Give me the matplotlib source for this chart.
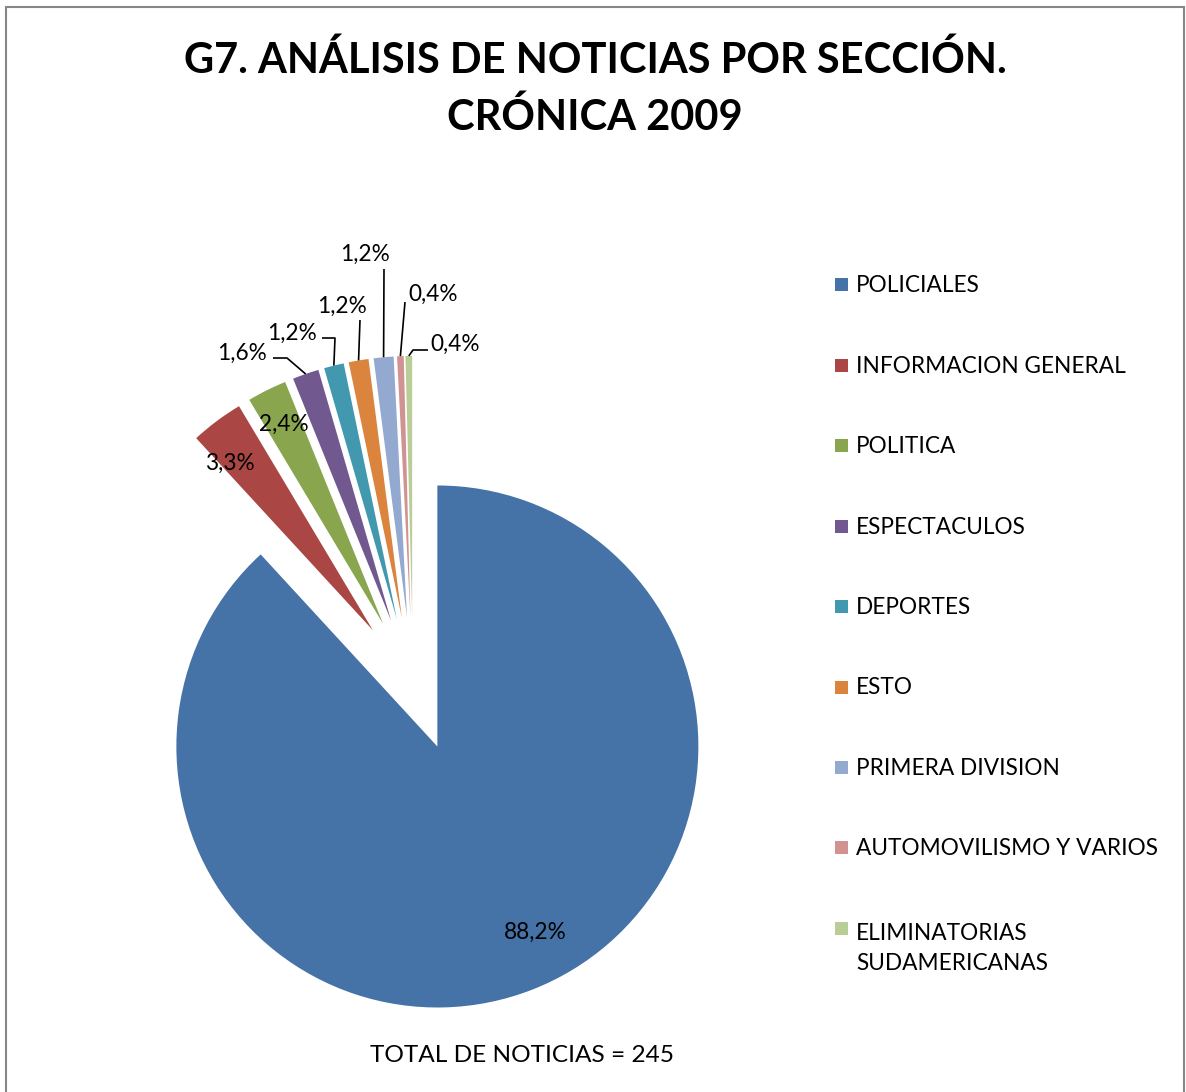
import matplotlib.pyplot as plt
import numpy as np
from matplotlib.patches import Rectangle

plt.rcParams["font.family"] = ["Lato", "DejaVu Sans"]

secciones = [
    "POLICIALES",
    "INFORMACION GENERAL",
    "POLITICA",
    "ESPECTACULOS",
    "DEPORTES",
    "ESTO",
    "PRIMERA DIVISION",
    "AUTOMOVILISMO Y VARIOS",
    "ELIMINATORIAS\nSUDAMERICANAS",
]
noticias = [216, 8, 6, 4, 3, 3, 3, 1, 1]
colores = [
    "#4572A7", "#AA4643", "#89A54E", "#71588F", "#4198AF",
    "#DB843D", "#93A9CF", "#D19392", "#B9CD96",
]
titulo = "G7. ANÁLISIS DE NOTICIAS POR SECCIÓN.\nCRÓNICA 2009"
pie_nota = "TOTAL DE NOTICIAS = 245"

W, H = 1186, 1092
CX, CY, R = 413, 684, 261  # pie centre / radius in pixels

# label text position (px) and leader elbows (px), None = no leader
label_layout = [
    ((535, 932), None),
    ((230, 463), None),
    ((284, 424), None),
    ((242, 353), [(273, 358), (287, 358)]),
    ((292, 333), [(322, 338), (335, 338)]),
    ((342, 306), [(360, 320)]),
    ((365, 254), [(384, 269)]),
    ((433, 294), [(405, 302)]),
    ((455, 344), [(428, 350), (413, 350)]),
]


def to_data(x, y):
    return (x - CX) / R, (CY - y) / R


def to_fig(x, y):
    return x / W, 1 - y / H


fig = plt.figure(figsize=(W / 100, H / 100), dpi=100)
ax = fig.add_axes([0, 0, 1, 1])
wedges, _ = ax.pie(
    noticias,
    colors=colores,
    startangle=90,
    counterclock=False,
    explode=[0.257] * len(noticias),
    wedgeprops=dict(linewidth=0),
)
ax.set_xlim(-CX / R, (W - CX) / R)
ax.set_ylim(-(H - CY) / R, CY / R)
ax.axis("off")

total = sum(noticias)
for wedge, n, (txt_pos, elbows) in zip(wedges, noticias, label_layout):
    pct = f"{100 * n / total:.1f}".replace(".", ",") + "%"
    ax.text(*to_data(*txt_pos), pct, ha="center", va="center", fontsize=16.3)
    if elbows is None:
        continue
    mid = np.deg2rad((wedge.theta1 + wedge.theta2) / 2)
    end = (wedge.center[0] + wedge.r * np.cos(mid),
           wedge.center[1] + wedge.r * np.sin(mid))
    pts = [to_data(*p) for p in elbows] + [end]
    xs, ys = zip(*pts)
    ax.plot(xs, ys, color="black", lw=1.2, solid_capstyle="butt")

fig.text(*to_fig(595, 89), titulo, ha="center", va="center",
         fontsize=30, fontweight="bold", linespacing=1.55)

# legend
y0, step = 286, 80.4
for i, (wedge, name) in enumerate(zip(wedges, secciones)):
    y = y0 + i * step
    fig.add_artist(Rectangle(to_fig(835, y + 5.5), 13 / W, 13 / H,
                             transform=fig.transFigure,
                             facecolor=wedge.get_facecolor(), edgecolor="none"))
    if "\n" in name:
        fig.text(*to_fig(856, y - 6), name, ha="left", va="top",
                 fontsize=16.3, linespacing=1.52)
    else:
        fig.text(*to_fig(856, y), name, ha="left", va="center", fontsize=16.3)

fig.text(*to_fig(522, 1055), pie_nota, ha="center", va="center", fontsize=17.6)

fig.add_artist(Rectangle((6 / W, -0.01), (1184 - 6) / W, 1 - 7 / H + 0.01,
                         transform=fig.transFigure, fill=False,
                         edgecolor="#868686", lw=1.5))

fig.savefig("out.png", dpi=100)
